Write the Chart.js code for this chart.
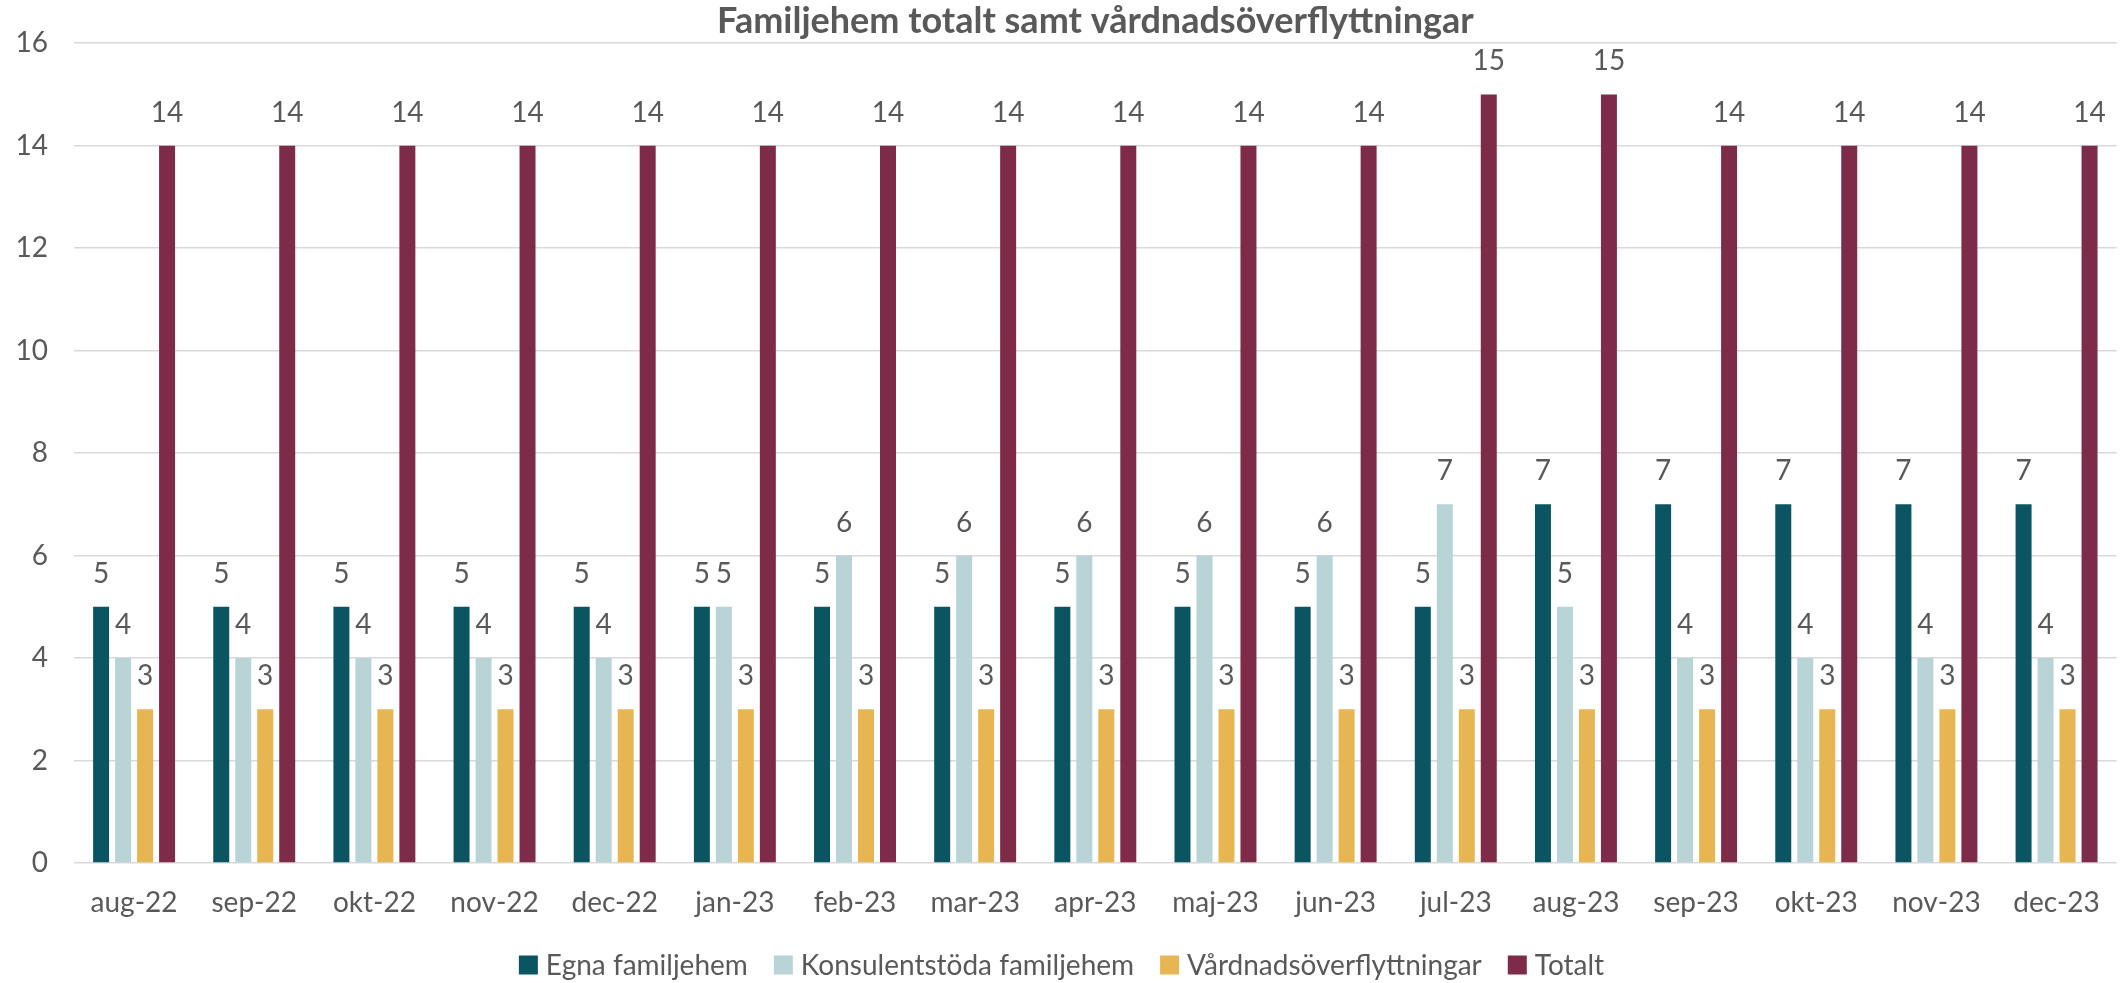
<!DOCTYPE html>
<html>
<head>
<meta charset="utf-8">
<script src="https://cdn.jsdelivr.net/npm/chart.js@4/dist/chart.umd.min.js"></script>
<style>
  html, body { margin: 0; padding: 0; background: #fff; }
  #wrap { width: 2123px; height: 983px; }
</style>
</head>
<body>
<div id="wrap"><canvas id="myChart"></canvas></div>
<script>
const months = ["aug-22", "sep-22", "okt-22", "nov-22", "dec-22", "jan-23", "feb-23", "mar-23", "apr-23",
                "maj-23", "jun-23", "jul-23", "aug-23", "sep-23", "okt-23", "nov-23", "dec-23"];
const egna      = [5, 5, 5, 5, 5, 5, 5, 5, 5, 5, 5, 5, 7, 7, 7, 7, 7];
const konsulent = [4, 4, 4, 4, 4, 5, 6, 6, 6, 6, 6, 7, 5, 4, 4, 4, 4];
const vardnad   = [3, 3, 3, 3, 3, 3, 3, 3, 3, 3, 3, 3, 3, 3, 3, 3, 3];
const totalt    = [14, 14, 14, 14, 14, 14, 14, 14, 14, 14, 14, 15, 15, 14, 14, 14, 14];
const yTicks    = [0, 2, 4, 6, 8, 10, 12, 14, 16];

const textColor = "#595959";
const fontName = "Lato, 'Open Sans', sans-serif";

// value labels above each bar
const barLabels = {
  id: "barLabels",
  afterDatasetsDraw(chart) {
    const ctx = chart.ctx;
    ctx.save();
    ctx.font = "28px " + fontName;
    ctx.fillStyle = textColor;
    ctx.textAlign = "center";
    ctx.textBaseline = "alphabetic";
    chart.data.datasets.forEach((ds, i) => {
      chart.getDatasetMeta(i).data.forEach((bar, j) => {
        ctx.fillText(ds.data[j], bar.x, bar.y - 24);
      });
    });
    ctx.restore();
  }
};

// legend drawn like the excel one: small gap between box and text
const bottomLegend = {
  id: "bottomLegend",
  afterDraw(chart) {
    const ctx = chart.ctx;
    ctx.save();
    ctx.font = "28px " + fontName;
    ctx.textBaseline = "middle";
    ctx.textAlign = "left";
    const box = 19, gap = 8, between = 26;
    const items = chart.data.datasets.map(ds => ({
      text: ds.label, color: ds.backgroundColor, w: ctx.measureText(ds.label).width
    }));
    let total = 0;
    items.forEach(it => total += box + gap + it.w);
    total += between * (items.length - 1);
    let x = chart.width / 2 - total / 2;
    const y = chart.chartArea.bottom + 102;
    items.forEach(it => {
      ctx.fillStyle = it.color;
      ctx.fillRect(x, y - box / 2, box, box);
      ctx.fillStyle = textColor;
      ctx.fillText(it.text, x + box + gap, y + 1);
      x += box + gap + it.w + between;
    });
    ctx.restore();
  }
};

new Chart("myChart", {
  type: "bar",
  data: {
    labels: months,
    datasets: [
      { label: "Egna familjehem", data: egna, backgroundColor: "#0b5563" },
      { label: "Konsulentstöda familjehem", data: konsulent, backgroundColor: "#b9d4d7" },
      { label: "Vårdnadsöverflyttningar", data: vardnad, backgroundColor: "#e7b653" },
      { label: "Totalt", data: totalt, backgroundColor: "#7e2a49" }
    ]
  },
  options: {
    responsive: true,
    maintainAspectRatio: false,
    animation: false,
    datasets: { bar: { categoryPercentage: 0.732, barPercentage: 0.727 } },
    layout: { padding: { left: 16, right: 6, top: 0, bottom: 63 } },
    scales: {
      x: {
        afterFit: axis => { axis.height = 57; },
        grid: { display: false, drawTicks: false },
        border: { display: false },
        ticks: { color: textColor, font: { family: fontName, size: 28 }, padding: 23, maxRotation: 0 }
      },
      y: {
        min: 0,
        max: 16,
        afterFit: axis => { axis.width = 58; },
        afterBuildTicks: axis => { axis.ticks = yTicks.map(v => ({ value: v })); },
        grid: { color: "#d9d9d9", lineWidth: 1.5, drawTicks: false },
        border: { display: false },
        ticks: { color: textColor, font: { family: fontName, size: 28 }, padding: 26 }
      }
    },
    plugins: {
      title: {
        display: true,
        fullSize: false,
        text: "Familjehem totalt samt vårdnadsöverflyttningar",
        color: textColor,
        font: { family: fontName, size: 36, weight: "bold" },
        padding: { top: 0, bottom: 0 }
      },
      legend: { display: false },
      tooltip: { enabled: false }
    }
  },
  plugins: [barLabels, bottomLegend]
});
</script>
</body>
</html>
